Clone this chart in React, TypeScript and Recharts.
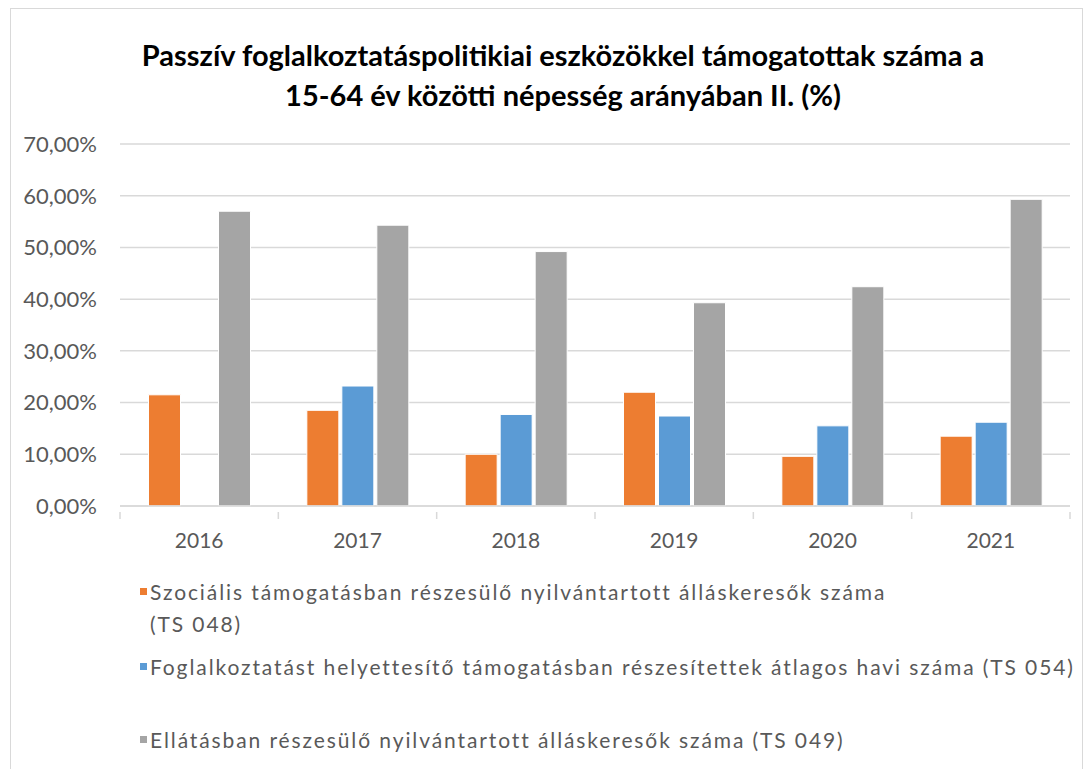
import { Bar, BarChart, CartesianGrid, XAxis, YAxis } from "recharts";

const years = ["2016", "2017", "2018", "2019", "2020", "2021"];
const szocialis = [21.5, 18.5, 10.0, 22.0, 9.6, 13.5];
const helyettesito = [null, 23.2, 17.7, 17.4, 15.5, 16.2];
const ellatas = [57.0, 54.3, 49.2, 39.3, 42.4, 59.3];
const yTicks = [0, 10, 20, 30, 40, 50, 60, 70];

const seriesNames = [
  "Szociális támogatásban részesülő nyilvántartott álláskeresők száma",
  "Foglalkoztatást helyettesítő támogatásban részesítettek átlagos havi száma (TS 054)",
  "Ellátásban részesülő nyilvántartott álláskeresők száma (TS 049)",
];
const colors = ["#ED7D31", "#5B9BD5", "#A5A5A5"];

const data = years.map((y, i) => ({
  year: y,
  szoc: szocialis[i],
  helyet: helyettesito[i],
  ellat: ellatas[i],
}));

const font = "Lato, 'Open Sans', sans-serif";
const textGray = "#595959";
const gridGray = "#d9d9d9";

const fmt = (v: number) => `${v.toFixed(2).replace(".", ",")}%`;

function YearTick(props: any) {
  const { x, y, payload, index } = props;
  const half = payload.offset ?? 0;
  const last = index === years.length - 1;
  return (
    <g>
      <line x1={x - half} x2={x - half} y1={y - 2} y2={y + 5} stroke={gridGray} strokeWidth={1.5} />
      {last && <line x1={x + half} x2={x + half} y1={y - 2} y2={y + 5} stroke={gridGray} strokeWidth={1.5} />}
      <text x={x} y={y + 34} textAnchor="middle" fill={textGray} fontSize={21} fontFamily={font}>
        {payload.value}
      </text>
    </g>
  );
}

function LegendItem({ color, top, children }: any) {
  return (
    <div style={{ position: "absolute", left: 140, top, display: "flex", alignItems: "flex-start" }}>
      <div style={{ width: 7, height: 7, background: color, marginTop: 12, marginRight: 3 }} />
      <div style={{ fontSize: 21, lineHeight: "32px", letterSpacing: 1.9, color: textGray, fontFamily: font, whiteSpace: "nowrap" }}>
        {children}
      </div>
    </div>
  );
}

export default function App() {
  return (
    <div style={{ position: "absolute", left: 0, top: 0, width: 1090, height: 769, background: "#fff", overflow: "hidden" }}>
      <div style={{ position: "absolute", left: 10, top: 8, width: 1073, height: 800, border: `1px solid ${gridGray}`, boxSizing: "border-box" }} />
      <div
        style={{
          position: "absolute",
          left: 0,
          top: 35,
          width: 1126,
          textAlign: "center",
          fontFamily: font,
          fontWeight: 700,
          fontSize: 29,
          lineHeight: "40px",
          color: "#000",
        }}
      >
        Passzív foglalkoztatáspolitikiai eszközökkel támogatottak száma a
        <br />
        15-64 év közötti népesség arányában II. (%)
      </div>
      <div style={{ position: "absolute", left: 0, top: 0 }}>
        <BarChart
          width={1090}
          height={560}
          data={data}
          margin={{ top: 144, right: 20, bottom: 24, left: 0 }}
          barCategoryGap="18%"
          barGap={3}
        >
          <CartesianGrid vertical={false} stroke={gridGray} strokeWidth={1.5} />
          <XAxis
            dataKey="year"
            height={30}
            axisLine={{ stroke: gridGray, strokeWidth: 1.5 }}
            tickLine={false}
            tick={<YearTick />}
            interval={0}
          />
          <YAxis
            width={120}
            domain={[0, 70]}
            ticks={yTicks}
            tickFormatter={fmt}
            axisLine={false}
            tickLine={false}
            tickSize={0}
            tickMargin={23}
            tick={{ fill: textGray, fontSize: 22, fontFamily: font }}
          />
          <Bar dataKey="szoc" name={seriesNames[0]} fill={colors[0]} stroke="#fff" strokeWidth={1} isAnimationActive={false} />
          <Bar dataKey="helyet" name={seriesNames[1]} fill={colors[1]} stroke="#fff" strokeWidth={1} isAnimationActive={false} />
          <Bar dataKey="ellat" name={seriesNames[2]} fill={colors[2]} stroke="#fff" strokeWidth={1} isAnimationActive={false} />
        </BarChart>
      </div>
      <LegendItem color={colors[0]} top={576}>
        {seriesNames[0]}
        <br />
        (TS 048)
      </LegendItem>
      <LegendItem color={colors[1]} top={651}>
        {seriesNames[1]}
      </LegendItem>
      <LegendItem color={colors[2]} top={724}>
        {seriesNames[2]}
      </LegendItem>
    </div>
  );
}
